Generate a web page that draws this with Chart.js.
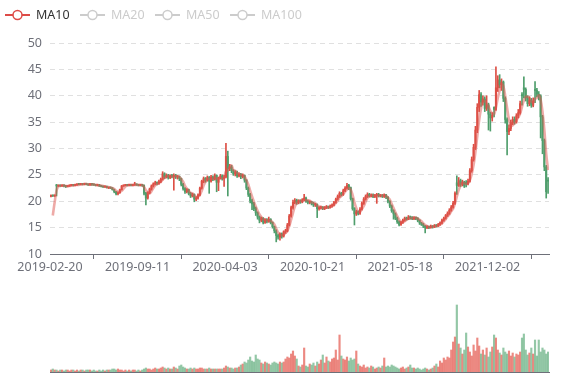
<!DOCTYPE html>
<html><head><meta charset="utf-8">
<script src="https://cdn.jsdelivr.net/npm/chart.js@4/dist/chart.umd.min.js"></script>
<style>
html,body{margin:0;padding:0;background:#fff;}
#wrap{position:relative;width:577px;height:380px;background:#fff;}
#c1{position:absolute;left:0;top:0;}
#c2{position:absolute;left:0;top:280px;}
</style></head><body>
<div id="wrap"><canvas id="c1" width="577" height="280"></canvas><canvas id="c2" width="577" height="100"></canvas></div>
<script>
const legendNames = ['MA10','MA20','MA50','MA100'];
const legendActive = [true,false,false,false];
const tickIdx = [0,47,94,141,188,235];
const tickLabels = ['2019-02-20','2019-09-11','2020-04-03','2020-10-21','2021-05-18','2021-12-02'];
const yTicks = [10,15,20,25,30,35,40,45,50];
// [open, close, low, high], one candle per 3 trading days
const candles = [
[20.9,21.1,20.8,21.2],[21.1,21.0,20.9,21.2],[21.0,21.1,20.9,21.2],[23.1,22.9,21.0,23.2],[22.9,23.0,22.8,23.1],[23.0,22.9,22.8,23.1],[22.9,23.0,22.8,23.1],[23.0,22.9,22.7,23.1],[22.9,22.8,22.6,23.0],[22.8,22.9,22.7,23.0],
[22.9,23.0,22.8,23.1],[23.0,23.1,22.9,23.2],[23.1,23.0,22.9,23.2],[23.0,23.1,22.9,23.2],[23.1,23.2,23.0,23.3],[23.3,23.2,23.1,23.4],[23.2,23.3,23.1,23.4],[23.3,23.2,23.1,23.4],[23.2,23.3,23.1,23.4],[23.3,23.2,23.1,23.4],
[23.2,23.1,23.0,23.3],[23.1,23.3,23.0,23.4],[23.3,23.2,23.0,23.4],[23.2,23.1,23.0,23.3],[23.1,23.0,22.9,23.2],[23.0,23.1,22.9,23.2],[23.1,22.9,22.8,23.2],[22.9,22.8,22.7,23.0],[22.8,22.7,22.6,22.9],[22.7,22.8,22.6,22.9],[22.8,22.6,22.5,22.9],
[22.5,22.6,22.4,22.7],[22.6,22.5,22.4,22.7],[22.5,22.2,22.1,22.6],[22.2,21.8,21.6,22.3],[21.8,21.4,21.2,21.9],[21.4,21.6,21.2,21.8],[21.6,22.2,21.5,22.3],[22.2,22.9,22.1,23.0],[22.9,23.0,22.8,23.1],[23.0,23.1,22.9,23.2],
[23.1,23.0,22.9,23.2],[23.0,23.1,22.9,23.2],[23.1,23.0,22.9,23.2],[23.0,23.1,22.9,23.2],[23.1,23.2,23.0,23.6],[23.2,23.1,23.0,23.3],[23.1,23.0,22.9,23.2],[23.0,23.1,22.9,23.2],[23.1,23.0,22.8,23.2],[23.0,21.5,21.2,23.1],
[21.5,20.6,19.3,21.7],[20.6,21.6,20.4,21.8],[21.6,22.3,21.4,22.5],[22.3,22.9,22.1,23.1],[22.9,23.3,22.7,23.5],[23.3,23.5,23.1,23.8],[23.5,23.4,23.1,23.7],[23.4,23.7,23.2,24.0],[23.7,24.2,23.5,24.4],[24.2,25.2,24.0,25.6],
[25.2,24.6,24.3,25.4],[24.6,24.9,24.4,25.2],[24.9,24.5,24.2,25.1],[24.5,24.8,24.3,25.0],[24.8,24.7,24.4,25.1],[24.7,24.9,22.1,25.2],[24.9,24.6,24.3,25.1],[24.6,24.7,24.2,24.9],[24.7,24.3,23.9,24.8],[24.3,23.2,22.9,24.4],
[23.2,22.4,22.1,23.4],[22.4,21.8,21.5,22.6],[21.8,22.2,21.6,22.4],[22.2,21.5,21.2,22.3],[21.5,21.0,20.7,21.7],[21.0,21.3,20.8,21.5],[21.3,20.4,19.9,21.4],[20.4,20.6,20.1,20.9],[20.6,21.2,20.4,21.4],[21.2,22.5,21.0,22.7],
[22.5,23.8,22.3,24.0],[23.8,24.3,23.5,24.6],[24.3,24.0,23.6,24.5],[24.0,24.5,23.8,24.8],[24.5,23.8,21.5,24.7],[23.8,24.6,23.6,24.9],[24.6,24.2,23.9,24.8],[24.2,24.9,24.0,25.2],[24.9,23.6,21.8,25.0],[23.6,24.4,22.0,24.6],
[24.4,24.8,24.2,25.1],[24.8,24.3,24.0,25.0],[24.3,24.6,22.8,24.9],[24.6,28.5,24.4,31.0],[28.5,26.2,21.0,29.5],[26.2,26.5,25.8,27.0],[26.5,25.8,25.4,26.8],[25.8,25.2,24.9,26.0],[25.2,25.5,24.8,25.8],[25.5,24.8,24.5,25.7],
[24.8,25.1,24.6,25.4],[25.1,24.7,24.3,25.3],[24.7,24.9,24.4,25.2],[24.9,24.0,23.6,25.0],[24.0,22.5,22.2,24.1],[22.5,21.3,20.9,22.7],[21.3,20.1,19.7,21.5],[20.1,19.5,18.4,20.4],[19.5,18.6,18.2,19.8],[18.6,17.8,17.3,18.9],
[17.8,17.0,16.6,18.0],[17.0,16.4,15.9,17.2],[16.4,16.8,16.1,17.0],[16.8,16.0,15.7,16.9],[16.0,16.5,15.8,16.7],[16.5,16.2,15.9,16.7],[16.2,16.6,16.0,17.0],[16.6,16.0,15.7,16.7],[16.0,15.2,14.9,16.1],[15.2,14.4,14.0,15.3],
[14.4,13.5,12.3,14.6],[13.5,13.2,12.8,13.8],[13.2,13.8,12.6,14.0],[13.8,13.4,13.0,14.0],[13.4,14.2,13.2,14.4],[14.2,14.4,13.9,14.7],[14.4,15.5,14.2,15.8],[15.5,17.2,15.3,17.5],[17.2,18.8,17.0,19.1],[18.8,19.8,18.5,20.2],
[19.8,20.2,19.5,20.5],[20.2,19.7,19.4,20.4],[19.7,20.1,19.5,20.3],[20.1,19.9,19.6,20.3],[19.9,20.3,19.7,20.5],[20.3,20.6,20.1,21.3],[20.6,20.0,19.8,20.8],[20.0,19.8,19.5,20.2],[19.8,19.9,19.5,20.1],[19.9,19.6,19.3,20.0],
[19.6,19.3,19.0,19.8],[19.3,19.4,19.0,19.6],[19.4,18.6,16.9,19.5],[18.6,18.7,18.3,19.0],[18.7,18.9,18.5,19.1],[18.9,18.6,18.4,19.0],[18.6,18.8,18.4,19.0],[18.8,19.0,18.6,19.2],[19.0,18.8,18.6,19.1],[18.8,19.1,18.7,19.3],
[19.1,19.3,18.9,19.5],[19.3,19.8,19.1,20.0],[19.8,20.4,19.6,20.6],[20.4,20.9,20.2,21.2],[20.9,21.5,20.7,21.8],[21.5,21.3,21.0,21.7],[21.3,22.0,21.1,22.3],[22.0,22.5,21.8,22.8],[22.5,23.0,22.3,23.4],[23.0,22.6,22.2,23.2],
[22.6,20.5,20.2,22.7],[20.5,18.6,18.3,20.6],[18.6,17.6,15.5,18.8],[17.6,18.0,17.3,18.3],[18.0,17.7,17.4,18.2],[17.7,18.5,17.5,18.8],[18.5,19.6,18.3,19.9],[19.6,20.4,19.4,20.7],[20.4,20.9,20.2,21.2],[20.9,21.3,20.7,21.6],
[21.3,21.0,20.8,21.5],[21.0,21.2,20.8,21.4],[21.2,20.9,20.7,21.4],[20.9,21.1,20.7,21.3],[21.1,21.3,19.6,21.5],[21.3,21.0,20.8,21.5],[21.0,21.1,20.8,21.3],[21.1,20.9,20.7,21.3],[20.9,21.2,20.7,21.4],[21.2,20.8,20.5,21.3],
[20.8,20.0,19.7,20.9],[20.0,19.1,18.8,20.1],[19.1,18.2,17.9,19.3],[18.2,17.6,16.6,18.4],[17.6,16.8,16.5,17.8],[16.8,16.1,15.8,17.0],[16.1,15.6,15.3,16.3],[15.6,16.0,15.4,16.2],[16.0,16.4,15.8,16.6],[16.4,16.8,16.2,17.0],
[16.8,16.6,16.4,17.0],[16.6,17.0,16.5,17.3],[17.0,16.9,16.6,17.2],[16.9,16.7,16.5,17.1],[16.7,16.9,16.5,17.1],[16.9,16.8,16.5,17.0],[16.8,16.4,16.1,16.9],[16.4,15.9,15.6,16.5],[15.9,15.6,15.4,16.0],[15.6,15.3,15.0,15.8],[15.3,15.0,14.0,15.4],
[15.0,15.2,14.8,15.4],[15.2,15.0,14.8,15.3],[15.0,15.3,14.9,15.5],[15.3,15.1,14.9,15.4],[15.1,15.4,15.0,15.6],[15.4,15.3,15.1,15.6],[15.3,15.6,15.2,15.8],[15.6,15.9,15.4,16.1],[15.9,16.4,15.7,16.6],[16.4,16.8,16.2,17.0],
[16.8,17.3,16.6,17.5],[17.3,17.7,17.1,18.0],[17.7,18.3,17.5,18.6],[18.3,18.9,18.1,19.2],[18.9,19.6,18.7,20.0],[19.6,21.5,19.4,21.8],[23.5,23.0,21.3,24.8],[23.0,23.9,22.8,24.5],[23.9,23.2,22.8,24.2],[23.2,23.6,22.9,24.0],
[23.6,22.9,22.6,23.8],[23.6,23.3,22.7,23.9],[23.3,23.8,23.1,24.2],[23.8,25.8,23.6,26.2],[25.8,27.9,25.5,28.4],[27.9,30.2,27.6,30.8],[30.2,33.5,29.8,34.2],[33.5,37.8,33.0,38.5],[37.8,40.2,37.0,41.0],[40.2,38.8,38.0,40.6],
[38.8,39.4,38.2,40.0],[39.4,37.6,37.0,39.8],[37.6,38.3,37.2,40.0],[38.3,36.5,33.5,38.6],[36.5,35.8,33.3,36.9],[35.8,36.3,35.2,36.8],[37.8,37.4,36.0,37.9],[37.4,41.5,37.2,45.5],[41.5,43.0,40.8,43.8],[43.0,42.1,41.5,44.0],
[42.1,42.6,41.0,43.2],[42.6,39.5,38.9,42.8],[39.5,35.5,34.8,39.8],[35.5,33.2,28.8,35.8],[33.2,33.8,32.6,34.5],[33.8,34.9,33.4,35.4],[34.9,35.5,34.5,36.0],[35.5,35.0,34.6,36.0],[35.0,36.2,34.8,36.6],[36.2,36.8,35.8,37.4],
[36.8,38.5,36.5,39.0],[40.2,40.0,38.2,40.6],[41.5,41.2,39.6,43.6],[41.2,39.6,39.0,41.5],[39.6,38.5,38.0,40.0],[38.5,39.2,38.1,39.8],[39.2,38.2,37.8,39.5],[38.2,39.0,37.9,39.6],[41.2,41.0,38.7,42.7],[41.0,40.3,39.8,41.4],
[40.3,40.0,39.2,40.8],[40.0,36.0,32.0,40.2],[36.0,31.5,29.0,36.3],[31.5,26.5,25.8,31.8],[26.5,21.8,20.6,26.8],[24.0,23.8,21.5,24.5]
];
const volumes = [
2,3,2,2,1,2,2,1,2,2, 1,2,2,1,2,1,2,2,1,2, 2,2,1,2,1,1,2,1,2,1,2,
2,2,3,3,2,3,2,2,1,2, 1,2,1,2,2,1,2,1,2,3, 4,3,3,2,3,4,3,3,4,5, 4,3,4,3,3,5,4,3,6,7,
5,4,3,3,4,3,4,3,3,4, 4,3,3,3,4,3,3,3,3,3, 3,3,4,6,5,4,4,3,4,4, 5,7,8,10,9,12,15,11,10,17,
13,12,9,8,10,9,8,7,9,10, 9,8,10,9,10,13,15,14,18,21, 16,13,6,5,7,24,6,5,8,7, 9,6,10,8,12,17,9,15,11,10,
13,14,22,12,37,16,13,12,15,11, 14,12,13,21,8,6,5,7,4,5, 4,6,5,3,4,5,4,6,14,5, 6,5,7,6,5,4,3,4,5,3,
4,5,7,4,4,3,4,3,2,3,4, 3,2,3,4,6,8,5,11,9,14, 12,15,14,22,30,35,67,28,24,18, 22,39,25,20,16,27,21,34,26,18,
22,17,24,15,20,25,37,34,22,19, 17,24,20,18,21,16,19,15,18,17, 20,34,38,22,17,19,24,18,32,16, 32,20,24,22,18,20
];
const ma10 = [
null,17.3,19.8,22.0,22.8,22.9,23.0,23.0,22.9,22.9, 22.9,23.0,23.0,23.1,23.1,23.1,23.2,23.2,23.3,23.3,
23.2,23.2,23.2,23.2,23.1,23.1,23.0,23.0,22.9,22.8,22.7, 22.7,22.6,22.5,22.3,22.0,21.8,21.8,22.0,22.4,22.8,
23.0,23.1,23.1,23.1,23.1,23.1,23.1,23.1,23.1,22.7, 22.1,21.7,21.5,21.9,22.5,23.0,23.3,23.5,23.7,24.1,
24.4,24.7,24.8,24.7,24.7,24.7,24.8,24.7,24.6,24.2, 23.7,22.9,22.4,22.0,21.6,21.5,21.1,20.8,20.9,21.2,
22.0,23.0,23.7,24.2,24.2,24.2,24.3,24.4,24.3,24.3, 24.4,24.3,24.5,25.6,25.9,26.5,26.8,25.9,25.8,25.3,
25.2,25.0,24.9,24.7,24.0,23.2,22.0,20.9,19.9,19.0, 18.2,17.5,17.0,16.6,16.4,16.4,16.3,16.3,16.0,15.6,
14.8,14.1,13.7,13.5,13.7,14.0,14.4,15.3,16.5,17.8, 19.0,19.6,20.0,20.0,20.0,20.2,20.2,20.2,20.1,19.8,
19.7,19.6,19.2,19.0,18.9,18.7,18.8,18.8,18.8,18.9, 19.1,19.3,19.7,20.1,20.7,21.0,21.4,21.8,22.2,22.5,
22.2,21.2,19.8,18.7,18.0,18.0,18.5,19.1,19.9,20.6, 20.9,21.1,21.1,21.1,21.1,21.1,21.1,21.1,21.1,21.0,
20.7,20.3,19.5,18.7,17.9,17.2,16.5,16.1,16.0,16.2, 16.5,16.7,16.8,16.8,16.8,16.9,16.7,16.5,16.2,15.8,15.5,
15.3,15.1,15.1,15.2,15.2,15.3,15.4,15.6,15.8,16.2, 16.6,17.1,17.5,18.1,18.6,19.6,20.9,22.1,23.0,23.6,
23.4,23.3,23.4,24.0,25.2,26.9,29.4,32.4,35.4,37.6, 39.1,39.0,38.5,38.0,37.1,36.7,36.5,37.8,39.6,41.0,
42.3,41.8,39.9,37.7,35.5,34.4,34.4,34.8,35.4,35.9, 36.6,37.9,39.1,39.8,39.8,39.6,38.9,38.7,39.4,39.6,
40.1,39.3,37.0,33.5,29.0,25.9
];

const UP = '#dd4f45', DOWN = '#4f9e6c';
const UPV = 'rgba(228,92,82,0.72)', DOWNV = 'rgba(96,172,124,0.68)';
const FONT = "'Noto Sans', 'Open Sans', sans-serif";
const AXIS = '#6e7079';
const isUp = candles.map(c => c[1] >= c[0]);
const colors = isUp.map(u => u ? UP : DOWN);
const vColors = isUp.map(u => u ? UPV : DOWNV);
const N = candles.length;

const legendPlugin = {
  id: 'legendDraw',
  afterDraw(chart) {
    const ctx = chart.ctx;
    const xs = [5, 80, 155, 230];
    ctx.save();
    legendNames.forEach((n, k) => {
      const col = legendActive[k] ? '#dd4b47' : '#cccccc';
      const x = xs[k], y = 15;
      ctx.strokeStyle = col; ctx.lineWidth = 2;
      ctx.beginPath(); ctx.moveTo(x, y); ctx.lineTo(x + 25, y); ctx.stroke();
      ctx.beginPath(); ctx.arc(x + 12.5, y, 4.5, 0, Math.PI * 2);
      ctx.fillStyle = '#fff'; ctx.fill(); ctx.lineWidth = 1.5; ctx.stroke();
      ctx.fillStyle = legendActive[k] ? '#333' : '#ccc';
      ctx.font = '12.5px ' + FONT; ctx.textBaseline = 'middle'; ctx.textAlign = 'left';
      ctx.fillText(n, x + 31, y + 0.5);
    });
    ctx.restore();
  }
};

new Chart(document.getElementById('c1'), {
  type: 'bar',
  data: { datasets: [
    { type: 'line', label: 'MA10', data: ma10.map((v, i) => ({x: i, y: v})),
      borderColor: 'rgba(222,86,80,0.5)', borderWidth: 2.6, pointRadius: 0, tension: 0.35, order: 0 },
    { label: 'body', data: candles.map((c, i) => ({x: i, y: [c[0], c[1]]})),
      backgroundColor: colors, barThickness: 1.4, grouped: false, order: 1, minBarLength: 1 },
    { label: 'wick', data: candles.map((c, i) => ({x: i, y: [c[2], c[3]]})),
      backgroundColor: colors, barThickness: 1, grouped: false, order: 2 }
  ]},
  options: {
    responsive: false, animation: false, events: [],
    layout: { padding: { left: 0, right: 28, top: 43, bottom: 0 } },
    plugins: { legend: { display: false }, tooltip: { enabled: false } },
    scales: {
      x: { type: 'linear', min: -0.5, max: N - 0.5, offset: false,
        afterFit(s) { s.height = 26; },
        afterBuildTicks(s) { s.ticks = tickIdx.map(v => ({value: v - 0.5})); },
        ticks: { autoSkip: false, maxRotation: 0, color: AXIS, padding: 1,
          font: { family: FONT, size: 12.5 },
          callback: (v) => { const k = tickIdx.indexOf(Math.round(v + 0.5)); return k >= 0 ? tickLabels[k] : ''; } },
        grid: { display: true, drawOnChartArea: false, drawTicks: true, tickLength: 5, color: AXIS },
        border: { display: true, color: AXIS, width: 1 }
      },
      y: { min: 10, max: 50,
        afterFit(s) { s.width = 50; },
        afterBuildTicks(s) { s.ticks = yTicks.map(v => ({value: v})); },
        ticks: { color: AXIS, padding: 8, font: { family: FONT, size: 12.5 } },
        grid: { color: (c) => c.tick && c.tick.value === 10 ? 'rgba(0,0,0,0)' : '#e0e0e0', drawTicks: false, lineWidth: 1 },
        border: { display: false, dash: [5, 4] }
      }
    }
  },
  plugins: [legendPlugin]
});

new Chart(document.getElementById('c2'), {
  type: 'bar',
  data: { datasets: [
    { label: 'Volume', data: volumes.map((v, i) => ({x: i, y: v})),
      backgroundColor: vColors, barThickness: 1.5, grouped: false }
  ]},
  options: {
    responsive: false, animation: false, events: [],
    layout: { padding: { left: 50, right: 28, top: 20, bottom: 8 } },
    plugins: { legend: { display: false }, tooltip: { enabled: false } },
    scales: {
      x: { type: 'linear', min: -0.5, max: N - 0.5, offset: false,
        afterFit(s) { s.height = 0; },
        ticks: { display: false },
        grid: { display: true, drawOnChartArea: false, drawTicks: false },
        border: { display: true, color: AXIS, width: 1 }
      },
      y: { display: false, min: 0, max: 72 }
    }
  }
});
</script>
</body></html>
